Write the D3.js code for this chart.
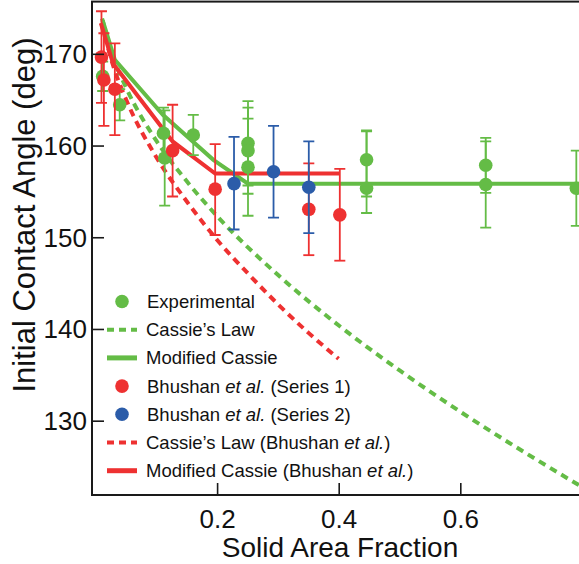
<!DOCTYPE html>
<html lang="en">
<head>
    <meta charset="UTF-8">
    <title>Initial Contact Angle</title>
    <script src="https://d3js.org/d3.v7.min.js"></script>
    <style>
        body{ margin:0; background:white; }
        text{ font-family: "Liberation Sans", Arial, sans-serif; fill:#111; }
        .tick-label{ font-size:26px; }
        .axis-title{ font-size:28px; }
        .legend text{ font-size:18.5px; }
        .err{ stroke-width:1.8; fill:none; }
    </style>
</head>
<body>
<script>
    // data: [solid area fraction, angle, error low, error high]
    var experimental = [
        [0.011, 167.6, 166.0, 169.2],
        [0.039, 164.5, 162.8, 166.2],
        [0.111, 161.4, 158.6, 164.2],
        [0.113, 158.7, 153.5, 163.9],
        [0.160, 161.2, 159.0, 163.4],
        [0.250, 160.3, 155.7, 164.9],
        [0.250, 159.5, 154.8, 164.2],
        [0.250, 157.7, 152.4, 163.0],
        [0.445, 158.5, 154.5, 161.7],
        [0.445, 155.4, 152.7, 161.6],
        [0.641, 157.9, 154.9, 160.9],
        [0.641, 155.8, 151.1, 160.5],
        [0.790, 155.4, 151.3, 159.5]
    ];
    var bhushan1 = [
        [0.009, 169.7, 164.7, 174.7],
        [0.013, 167.2, 162.2, 172.3],
        [0.031, 166.2, 161.2, 171.2],
        [0.126, 159.5, 154.5, 164.5],
        [0.196, 155.3, 150.3, 160.2],
        [0.350, 153.1, 148.1, 158.1],
        [0.401, 152.5, 147.5, 157.5]
    ];
    var bhushan2 = [
        [0.227, 155.9, 150.9, 161.0],
        [0.292, 157.2, 152.2, 162.2],
        [0.350, 155.5, 150.5, 160.5]
    ];
    var cassieLaw = [[0.01,173.9],[0.03,169.4],[0.05,166.3],[0.1,160.5],[0.15,156.1],[0.2,152.3],
                     [0.3,145.9],[0.4,140.4],[0.5,135.5],[0.6,131.0],[0.7,126.8],[0.8,122.8]];
    var modifiedCassie = [[0.011,173.7],[0.031,169.4],[0.110,163.4],[0.193,158.5],[0.250,155.9],[0.80,155.9]];
    var cassieBhushan = [[0.009,173.4],[0.03,168.4],[0.05,165.0],[0.1,158.7],[0.15,153.9],[0.2,149.7],
                         [0.25,146.1],[0.3,142.7],[0.35,139.6],[0.399,136.8]];
    var modifiedBhushan = [[0.008,173.4],[0.028,169.0],[0.126,160.5],[0.196,157.0],[0.40,157.0]];

    var xTicks = [0.2, 0.4, 0.6];
    var yTicks = [130, 140, 150, 160, 170];

    var green = "#64bc46", red = "#ee3131", blue = "#2b5ca9";

    var W = 579, H = 564;
    var plotLeft = 92, plotTop = 1.6, plotBottom = 495;

    var svg = d3.select("body").append("svg").attr("width", W).attr("height", H);

    var x = d3.scaleLinear().domain([0, 0.8]).range([96, 582.4]);
    var y = d3.scaleLinear().domain([121.95, 175.75]).range([plotBottom, plotTop]);

    svg.append("clipPath").attr("id", "plot")
       .append("rect").attr("x", plotLeft).attr("y", plotTop)
       .attr("width", W - plotLeft + 20).attr("height", plotBottom - plotTop);

    var plot = svg.append("g").attr("clip-path", "url(#plot)");

    var line = d3.line().x(function(d){ return x(d[0]); }).y(function(d){ return y(d[1]); });
    var smooth = d3.line().curve(d3.curveMonotoneX)
                   .x(function(d){ return x(d[0]); }).y(function(d){ return y(d[1]); });

    // model curves
    plot.append("path").attr("d", smooth(cassieLaw)).attr("fill","none")
        .attr("stroke", green).attr("stroke-width", 4).attr("stroke-dasharray", "7.5,5.5");
    plot.append("path").attr("d", smooth(cassieBhushan)).attr("fill","none")
        .attr("stroke", red).attr("stroke-width", 4).attr("stroke-dasharray", "7.5,5.5");
    plot.append("path").attr("d", line(modifiedCassie)).attr("fill","none")
        .attr("stroke", green).attr("stroke-width", 4);
    plot.append("path").attr("d", line(modifiedBhushan)).attr("fill","none")
        .attr("stroke", red).attr("stroke-width", 4);

    // error bars + points
    function drawSeries(data, color){
        var g = plot.append("g");
        var e = g.selectAll("g.eb").data(data).enter().append("g").attr("class","err").attr("stroke", color);
        e.append("line")
         .attr("x1", function(d){ return x(d[0]); }).attr("x2", function(d){ return x(d[0]); })
         .attr("y1", function(d){ return y(d[2]); }).attr("y2", function(d){ return y(d[3]); });
        e.append("line")
         .attr("x1", function(d){ return x(d[0]) - 5.5; }).attr("x2", function(d){ return x(d[0]) + 5.5; })
         .attr("y1", function(d){ return y(d[2]); }).attr("y2", function(d){ return y(d[2]); });
        e.append("line")
         .attr("x1", function(d){ return x(d[0]) - 5.5; }).attr("x2", function(d){ return x(d[0]) + 5.5; })
         .attr("y1", function(d){ return y(d[3]); }).attr("y2", function(d){ return y(d[3]); });
        g.selectAll("circle").data(data).enter().append("circle")
         .attr("cx", function(d){ return x(d[0]); })
         .attr("cy", function(d){ return y(d[1]); })
         .attr("r", 6.8).attr("fill", color);
    }
    drawSeries(experimental, green);
    drawSeries(bhushan1, red);
    drawSeries(bhushan2, blue);

    // frame and ticks
    svg.append("rect").attr("x", plotLeft).attr("y", plotTop).attr("width", W).attr("height", plotBottom - plotTop)
       .attr("fill","none").attr("stroke","#1a1a1a").attr("stroke-width", 2);

    svg.append("g").selectAll("line").data(yTicks).enter().append("line")
       .attr("x1", plotLeft).attr("x2", plotLeft + 12)
       .attr("y1", function(d){ return y(d); }).attr("y2", function(d){ return y(d); })
       .attr("stroke","#1a1a1a").attr("stroke-width", 1.6);
    svg.append("g").selectAll("text").data(yTicks).enter().append("text")
       .attr("class","tick-label").attr("text-anchor","end")
       .attr("x", 87).attr("y", function(d){ return y(d) + 9; })
       .text(function(d){ return d; });

    svg.append("g").selectAll("line").data(xTicks).enter().append("line")
       .attr("x1", function(d){ return x(d); }).attr("x2", function(d){ return x(d); })
       .attr("y1", plotBottom).attr("y2", plotBottom - 12)
       .attr("stroke","#1a1a1a").attr("stroke-width", 1.6);
    svg.append("g").selectAll("text").data(xTicks).enter().append("text")
       .attr("class","tick-label").attr("text-anchor","middle")
       .attr("x", function(d){ return x(d); }).attr("y", 528)
       .text(function(d){ return d.toFixed(1); });

    svg.append("text").attr("class","axis-title").attr("text-anchor","middle")
       .attr("x", 340).attr("y", 557).text("Solid Area Fraction");
    svg.append("text").attr("class","axis-title").attr("text-anchor","middle")
       .style("font-size","31px")
       .attr("transform","translate(35,215) rotate(-90)").text("Initial Contact Angle (deg)");

    // legend
    var legendItems = [
        {kind:"dot", color:green, parts:[["Experimental",""]]},
        {kind:"dash", color:green, parts:[["Cassie\u2019s Law",""]]},
        {kind:"line", color:green, parts:[["Modified Cassie",""]]},
        {kind:"dot", color:red, parts:[["Bhushan ",""],["et al.","i"],[" (Series 1)",""]]},
        {kind:"dot", color:blue, parts:[["Bhushan ",""],["et al.","i"],[" (Series 2)",""]]},
        {kind:"dash", color:red, parts:[["Cassie\u2019s Law (Bhushan ",""],["et al.","i"],[")",""]]},
        {kind:"line", color:red, parts:[["Modified Cassie (Bhushan ",""],["et al.","i"],[")",""]]}
    ];
    var legend = svg.append("g").attr("class","legend");
    legendItems.forEach(function(item, i){
        var cy = 301.5 + i * 28.2;
        if (item.kind === "dot") {
            legend.append("circle").attr("cx", 122).attr("cy", cy).attr("r", 6.8).attr("fill", item.color);
        } else {
            legend.append("line").attr("x1", 107).attr("x2", 137).attr("y1", cy).attr("y2", cy)
                  .attr("stroke", item.color).attr("stroke-width", item.kind === "dash" ? 4 : 5)
                  .attr("stroke-dasharray", item.kind === "dash" ? "7,5" : null);
        }
        var t = legend.append("text").attr("x", item.kind === "dot" ? 147 : 146).attr("y", cy + 6.5);
        item.parts.forEach(function(p){
            t.append("tspan").text(p[0]).style("font-style", p[1] === "i" ? "italic" : "normal");
        });
    });
</script>
</body>
</html>
